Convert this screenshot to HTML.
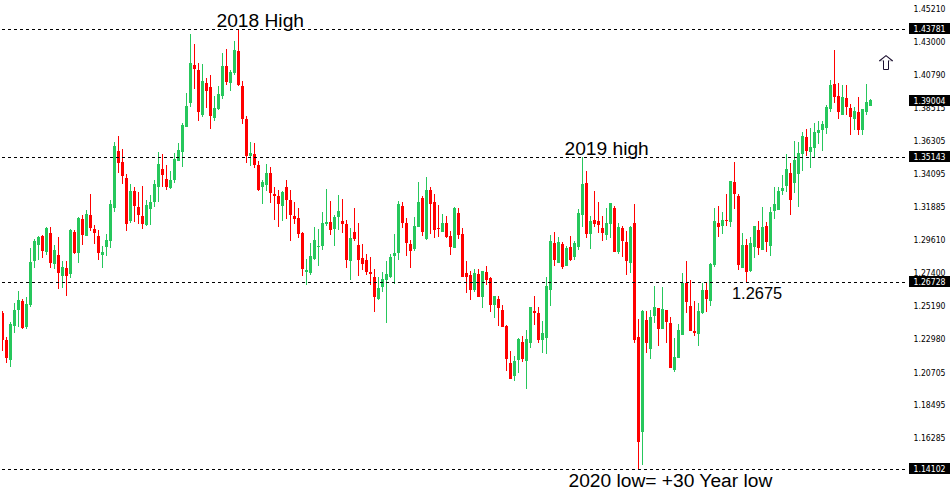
<!DOCTYPE html>
<html><head><meta charset="utf-8"><title>GBPUSD Weekly</title>
<style>html,body{margin:0;padding:0;background:#fff;overflow:hidden}svg{display:block}</style>
</head><body><svg width="950" height="494" viewBox="0 0 950 494"><path fill="#26C75C" d="M10 322h1v45h-1zM14 303h1v30h-1zM18 291h1v36h-1zM26 297h1v32h-1zM30 248h1v59h-1zM34 239h1v29h-1zM38 236h1v24h-1zM46 227h1v28h-1zM54 245h1v24h-1zM62 261h1v27h-1zM70 229h1v49h-1zM78 217h1v46h-1zM86 210h1v26h-1zM102 246h1v22h-1zM106 234h1v22h-1zM110 200h1v48h-1zM114 142h1v70h-1zM130 184h1v39h-1zM146 200h1v26h-1zM150 195h1v30h-1zM154 180h1v27h-1zM158 152h1v50h-1zM170 171h1v18h-1zM174 153h1v30h-1zM178 143h1v18h-1zM182 123h1v44h-1zM186 93h1v34h-1zM190 34h1v73h-1zM202 64h1v53h-1zM214 96h1v25h-1zM218 86h1v24h-1zM222 53h1v46h-1zM230 70h1v21h-1zM234 41h1v34h-1zM250 142h1v24h-1zM262 180h1v24h-1zM266 164h1v27h-1zM282 191h1v30h-1zM306 259h1v26h-1zM310 243h1v32h-1zM314 227h1v33h-1zM318 229h1v37h-1zM322 212h1v38h-1zM326 189h1v37h-1zM334 215h1v31h-1zM338 195h1v35h-1zM350 228h1v52h-1zM378 277h1v23h-1zM382 272h1v20h-1zM386 261h1v62h-1zM390 254h1v24h-1zM394 234h1v50h-1zM398 201h1v59h-1zM414 217h1v34h-1zM418 182h1v45h-1zM426 177h1v63h-1zM442 214h1v18h-1zM454 207h1v41h-1zM474 269h1v23h-1zM482 271h1v37h-1zM494 296h1v22h-1zM514 356h1v25h-1zM518 338h1v35h-1zM526 330h1v59h-1zM530 307h1v41h-1zM542 321h1v32h-1zM546 277h1v77h-1zM550 235h1v71h-1zM558 237h1v26h-1zM566 246h1v20h-1zM574 241h1v19h-1zM578 209h1v41h-1zM582 157h1v70h-1zM590 216h1v33h-1zM606 208h1v32h-1zM610 203h1v35h-1zM618 223h1v31h-1zM630 226h1v47h-1zM642 310h1v155h-1zM650 310h1v49h-1zM654 286h1v37h-1zM662 287h1v42h-1zM674 338h1v34h-1zM678 324h1v34h-1zM682 273h1v62h-1zM698 303h1v43h-1zM702 283h1v31h-1zM710 263h1v43h-1zM714 208h1v59h-1zM722 212h1v22h-1zM730 181h1v46h-1zM742 233h1v35h-1zM750 237h1v35h-1zM754 226h1v32h-1zM762 207h1v43h-1zM770 207h1v49h-1zM774 187h1v32h-1zM778 187h1v23h-1zM782 175h1v20h-1zM786 154h1v38h-1zM794 141h1v52h-1zM798 142h1v65h-1zM802 132h1v39h-1zM810 128h1v40h-1zM814 123h1v34h-1zM818 121h1v23h-1zM822 121h1v30h-1zM826 105h1v29h-1zM830 80h1v32h-1zM842 85h1v30h-1zM854 107h1v23h-1zM862 109h1v26h-1zM866 84h1v31h-1zM870 99h1v7h-1zM9 324h3v36h-3zM13 310h3v16h-3zM17 300h3v10h-3zM25 304h3v23h-3zM29 262h3v43h-3zM33 241h3v20h-3zM37 237h3v8h-3zM45 228h3v24h-3zM53 250h3v14h-3zM61 267h3v9h-3zM69 230h3v44h-3zM77 218h3v35h-3zM85 214h3v22h-3zM101 252h3v3h-3zM105 240h3v7h-3zM109 204h3v37h-3zM113 146h3v62h-3zM129 191h3v30h-3zM145 205h3v20h-3zM149 202h3v7h-3zM153 184h3v18h-3zM157 164h3v23h-3zM169 180h3v8h-3zM173 159h3v21h-3zM177 150h3v11h-3zM181 125h3v27h-3zM185 106h3v21h-3zM189 63h3v40h-3zM201 81h3v34h-3zM213 108h3v10h-3zM217 94h3v15h-3zM221 66h3v30h-3zM229 72h3v11h-3zM233 50h3v23h-3zM249 153h3v3h-3zM261 182h3v5h-3zM265 173h3v12h-3zM281 192h3v14h-3zM305 270h3v2h-3zM309 256h3v17h-3zM313 240h3v19h-3zM317 246h3v1h-3zM321 223h3v23h-3zM325 222h3v2h-3zM333 217h3v12h-3zM337 211h3v6h-3zM349 238h3v23h-3zM377 288h3v11h-3zM381 279h3v8h-3zM385 274h3v6h-3zM389 257h3v20h-3zM393 253h3v3h-3zM397 204h3v49h-3zM413 226h3v23h-3zM417 202h3v25h-3zM425 190h3v49h-3zM441 223h3v9h-3zM453 208h3v40h-3zM473 273h3v17h-3zM481 271h3v26h-3zM493 296h3v9h-3zM513 361h3v15h-3zM517 339h3v21h-3zM525 339h3v22h-3zM529 307h3v36h-3zM541 333h3v7h-3zM545 286h3v52h-3zM549 241h3v49h-3zM557 242h3v21h-3zM565 248h3v18h-3zM573 243h3v14h-3zM577 213h3v34h-3zM581 184h3v31h-3zM589 221h3v13h-3zM605 223h3v12h-3zM609 203h3v21h-3zM617 227h3v25h-3zM629 227h3v36h-3zM641 311h3v121h-3zM649 317h3v32h-3zM653 307h3v9h-3zM661 309h3v20h-3zM673 357h3v13h-3zM677 330h3v28h-3zM681 283h3v52h-3zM697 311h3v23h-3zM701 290h3v23h-3zM709 264h3v37h-3zM713 221h3v44h-3zM721 220h3v6h-3zM729 181h3v41h-3zM741 245h3v23h-3zM749 243h3v28h-3zM753 226h3v21h-3zM761 227h3v23h-3zM769 212h3v34h-3zM773 204h3v7h-3zM777 191h3v19h-3zM781 188h3v3h-3zM785 169h3v17h-3zM793 160h3v23h-3zM797 153h3v21h-3zM801 136h3v18h-3zM809 147h3v5h-3zM813 132h3v16h-3zM817 130h3v3h-3zM821 124h3v6h-3zM825 107h3v21h-3zM829 85h3v24h-3zM841 97h3v18h-3zM853 111h3v8h-3zM861 109h3v21h-3zM865 102h3v10h-3zM869 100h3v6h-3z"/><path fill="#FF0000" d="M2 311h1v40h-1zM6 337h1v26h-1zM22 299h1v30h-1zM42 235h1v23h-1zM50 227h1v41h-1zM58 237h1v52h-1zM66 261h1v35h-1zM74 230h1v24h-1zM82 215h1v30h-1zM90 194h1v37h-1zM94 225h1v19h-1zM98 230h1v30h-1zM118 136h1v37h-1zM122 149h1v35h-1zM126 174h1v57h-1zM134 187h1v35h-1zM138 192h1v32h-1zM142 186h1v43h-1zM162 154h1v33h-1zM166 165h1v25h-1zM194 44h1v45h-1zM198 63h1v58h-1zM206 78h1v30h-1zM210 75h1v54h-1zM226 49h1v36h-1zM238 29h1v57h-1zM242 81h1v43h-1zM246 116h1v47h-1zM254 143h1v25h-1zM258 161h1v30h-1zM270 167h1v36h-1zM274 187h1v33h-1zM278 190h1v37h-1zM286 180h1v39h-1zM290 190h1v51h-1zM294 202h1v22h-1zM298 208h1v30h-1zM302 232h1v44h-1zM330 201h1v34h-1zM342 199h1v34h-1zM346 220h1v48h-1zM354 208h1v33h-1zM358 223h1v53h-1zM362 244h1v26h-1zM366 254h1v21h-1zM370 257h1v28h-1zM374 269h1v43h-1zM402 202h1v26h-1zM406 218h1v38h-1zM410 240h1v28h-1zM422 196h1v40h-1zM430 187h1v47h-1zM434 194h1v44h-1zM438 205h1v32h-1zM446 216h1v22h-1zM450 231h1v24h-1zM458 208h1v31h-1zM462 228h1v49h-1zM466 261h1v32h-1zM470 271h1v29h-1zM478 269h1v28h-1zM486 266h1v19h-1zM490 277h1v35h-1zM498 296h1v30h-1zM502 305h1v22h-1zM506 325h1v46h-1zM510 351h1v28h-1zM522 336h1v26h-1zM534 296h1v29h-1zM538 307h1v36h-1zM554 232h1v34h-1zM562 242h1v27h-1zM570 236h1v25h-1zM586 171h1v67h-1zM594 191h1v36h-1zM598 202h1v31h-1zM602 216h1v25h-1zM614 206h1v46h-1zM622 226h1v31h-1zM626 231h1v44h-1zM634 204h1v139h-1zM638 319h1v151h-1zM646 311h1v42h-1zM658 308h1v38h-1zM666 310h1v33h-1zM670 317h1v51h-1zM686 261h1v52h-1zM690 280h1v51h-1zM694 301h1v35h-1zM706 283h1v29h-1zM718 206h1v31h-1zM726 194h1v32h-1zM734 162h1v47h-1zM738 194h1v76h-1zM746 239h1v44h-1zM758 221h1v34h-1zM766 222h1v30h-1zM790 163h1v52h-1zM806 129h1v27h-1zM834 50h1v53h-1zM838 83h1v36h-1zM846 85h1v30h-1zM850 104h1v31h-1zM858 97h1v38h-1zM2 313h2v27h-2zM5 340h3v18h-3zM21 301h3v27h-3zM41 236h3v15h-3zM49 233h3v30h-3zM57 255h3v18h-3zM65 268h3v8h-3zM73 232h3v21h-3zM81 219h3v16h-3zM89 215h3v13h-3zM93 229h3v4h-3zM97 236h3v17h-3zM117 151h3v12h-3zM121 162h3v14h-3zM125 178h3v46h-3zM133 191h3v15h-3zM137 207h3v8h-3zM141 216h3v8h-3zM161 169h3v6h-3zM165 179h3v8h-3zM193 65h3v4h-3zM197 70h3v42h-3zM205 83h3v8h-3zM209 87h3v29h-3zM225 66h3v16h-3zM237 51h3v34h-3zM241 86h3v33h-3zM245 119h3v37h-3zM253 154h3v11h-3zM257 165h3v25h-3zM269 173h3v20h-3zM273 194h3v2h-3zM277 196h3v8h-3zM285 187h3v13h-3zM289 200h3v15h-3zM293 216h3v3h-3zM297 218h3v16h-3zM301 233h3v36h-3zM329 222h3v8h-3zM341 221h3v3h-3zM345 224h3v36h-3zM353 232h3v7h-3zM357 245h3v15h-3zM361 258h3v6h-3zM365 260h3v12h-3zM369 272h3v2h-3zM373 277h3v20h-3zM401 206h3v17h-3zM405 223h3v20h-3zM409 244h3v7h-3zM421 198h3v34h-3zM429 190h3v14h-3zM433 202h3v28h-3zM437 228h3v1h-3zM445 223h3v14h-3zM449 236h3v11h-3zM457 213h3v22h-3zM461 234h3v43h-3zM465 273h3v4h-3zM469 275h3v15h-3zM477 274h3v23h-3zM485 272h3v8h-3zM489 278h3v27h-3zM497 299h3v9h-3zM501 310h3v17h-3zM505 326h3v33h-3zM509 363h3v16h-3zM521 342h3v17h-3zM533 311h3v2h-3zM537 313h3v27h-3zM553 243h3v17h-3zM561 244h3v23h-3zM569 247h3v13h-3zM585 183h3v51h-3zM593 220h3v4h-3zM597 221h3v4h-3zM601 228h3v5h-3zM613 208h3v44h-3zM621 228h3v13h-3zM625 242h3v19h-3zM633 223h3v117h-3zM637 337h3v105h-3zM645 320h3v23h-3zM657 308h3v21h-3zM665 310h3v12h-3zM669 323h3v45h-3zM685 283h3v19h-3zM689 306h3v25h-3zM693 331h3v2h-3zM705 290h3v9h-3zM717 223h3v4h-3zM725 220h3v1h-3zM733 182h3v12h-3zM737 196h3v69h-3zM745 245h3v27h-3zM757 230h3v18h-3zM765 226h3v16h-3zM789 173h3v27h-3zM805 137h3v14h-3zM833 84h3v13h-3zM837 96h3v16h-3zM845 98h3v9h-3zM849 108h3v9h-3zM857 112h3v18h-3z"/><line x1="2" y1="29.5" x2="906" y2="29.5" stroke="#000" stroke-width="1" stroke-dasharray="3 3"/><line x1="2" y1="157.5" x2="906" y2="157.5" stroke="#000" stroke-width="1" stroke-dasharray="3 3"/><line x1="2" y1="282.5" x2="906" y2="282.5" stroke="#000" stroke-width="1" stroke-dasharray="3 3"/><line x1="2" y1="469.5" x2="906" y2="469.5" stroke="#000" stroke-width="1" stroke-dasharray="3 3"/><g font-family="DejaVu Sans, Liberation Sans, sans-serif" style="font-stretch:condensed" font-size="9.2" fill="#000"><text x="913.5" y="12" textLength="32" lengthAdjust="spacingAndGlyphs">1.45210</text><text x="913.5" y="45" textLength="32" lengthAdjust="spacingAndGlyphs">1.43000</text><text x="913.5" y="78" textLength="32" lengthAdjust="spacingAndGlyphs">1.40790</text><text x="913.5" y="111" textLength="32" lengthAdjust="spacingAndGlyphs">1.38515</text><text x="913.5" y="144" textLength="32" lengthAdjust="spacingAndGlyphs">1.36305</text><text x="913.5" y="177" textLength="32" lengthAdjust="spacingAndGlyphs">1.34095</text><text x="913.5" y="210" textLength="32" lengthAdjust="spacingAndGlyphs">1.31885</text><text x="913.5" y="243" textLength="32" lengthAdjust="spacingAndGlyphs">1.29610</text><text x="913.5" y="276" textLength="32" lengthAdjust="spacingAndGlyphs">1.27400</text><text x="913.5" y="309" textLength="32" lengthAdjust="spacingAndGlyphs">1.25190</text><text x="913.5" y="342" textLength="32" lengthAdjust="spacingAndGlyphs">1.22980</text><text x="913.5" y="376" textLength="32" lengthAdjust="spacingAndGlyphs">1.20705</text><text x="913.5" y="408" textLength="32" lengthAdjust="spacingAndGlyphs">1.18495</text><text x="913.5" y="441" textLength="32" lengthAdjust="spacingAndGlyphs">1.16285</text></g><g font-family="DejaVu Sans, Liberation Sans, sans-serif" style="font-stretch:condensed" font-size="9.2"><rect x="909" y="23" width="41" height="11" fill="#000"/><text x="913.5" y="32" fill="#fff" textLength="32" lengthAdjust="spacingAndGlyphs">1.43781</text><rect x="909" y="95" width="41" height="11" fill="#000"/><text x="913.5" y="104" fill="#fff" textLength="32" lengthAdjust="spacingAndGlyphs">1.39004</text><rect x="909" y="151" width="41" height="11" fill="#000"/><text x="913.5" y="160" fill="#fff" textLength="32" lengthAdjust="spacingAndGlyphs">1.35143</text><rect x="909" y="276" width="41" height="11" fill="#000"/><text x="913.5" y="285" fill="#fff" textLength="32" lengthAdjust="spacingAndGlyphs">1.26728</text><rect x="909" y="463" width="41" height="11" fill="#000"/><text x="913.5" y="472" fill="#fff" textLength="32" lengthAdjust="spacingAndGlyphs">1.14102</text></g><g font-family="Liberation Sans, Arial, sans-serif" fill="#000"><text x="216.5" y="26.6" font-size="19.2">2018 High</text><text x="564.5" y="154.9" font-size="19.2">2019 high</text><text x="732" y="299" font-size="16.4">1.2675</text><text x="568.5" y="486.6" font-size="19.2">2020 low= +30 Year low</text></g><g fill="none" stroke="#1c1030" stroke-width="1"><path d="M879.3 61 L886 55.6 L892.7 61" stroke-width="1.1"/><path d="M883.5 60.5 V69.5 H888.5 V60.5"/><path d="M879.5 60.8 H883.5 M888.5 60.8 H892.5" stroke-opacity="0.3"/></g></svg></body></html>
